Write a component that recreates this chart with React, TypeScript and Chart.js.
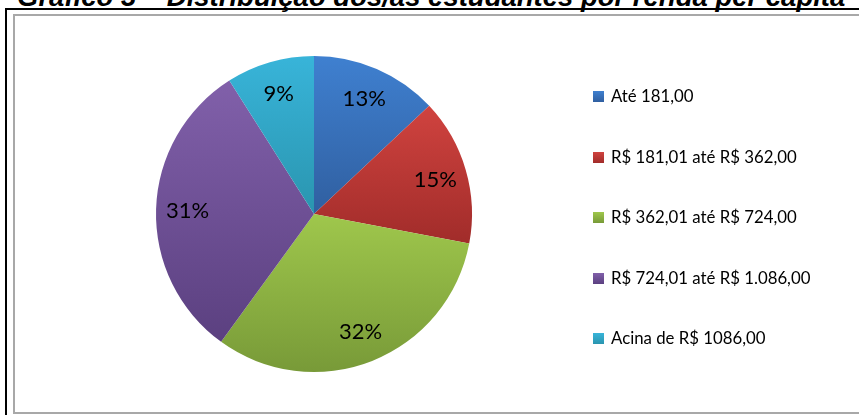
import React, { useEffect, useRef } from 'react';
import { Chart, ArcElement, PieController } from 'chart.js';

Chart.register(ArcElement, PieController);

const titleText = 'Gráfico 3 – Distribuição dos/as estudantes por renda per capita';
const categories = [
  'Até 181,00',
  'R$ 181,01 até R$ 362,00',
  'R$ 362,01 até R$ 724,00',
  'R$ 724,01 até R$ 1.086,00',
  'Acina de R$ 1086,00',
];
const values = [13, 15, 32, 31, 9];
const topColors = ['#3F80D0', '#D0433F', '#9FC74C', '#8160AA', '#38B4D9'];
const bottomColors = ['#305FA0', '#A12C2A', '#789A38', '#5B4080', '#2A95AF'];

const PIE_RADIUS = 158;

function sliceGradient(chart: any, i: number) {
  const area = chart.chartArea;
  if (!area) return topColors[i];
  const cy = (area.top + area.bottom) / 2;
  const r = PIE_RADIUS;
  const total = values.reduce((a, b) => a + b, 0);
  let cum = 0;
  for (let k = 0; k < i; k++) cum += values[k];
  const a0 = -Math.PI / 2 + (cum / total) * 2 * Math.PI;
  const a1 = a0 + (values[i] / total) * 2 * Math.PI;
  const ys = [cy, cy + r * Math.sin(a0), cy + r * Math.sin(a1)];
  for (const t of [-Math.PI / 2, Math.PI / 2, (3 * Math.PI) / 2]) {
    if (t >= a0 - 1e-9 && t <= a1 + 1e-9) ys.push(cy + r * Math.sin(t));
  }
  const y0 = Math.min(...ys);
  const y1 = Math.max(...ys);
  const g = chart.ctx.createLinearGradient(0, y0, 0, y1);
  g.addColorStop(0, topColors[i]);
  g.addColorStop(1, bottomColors[i]);
  return g;
}

const LABEL_FONT = 22;

const percentLabels = {
  id: 'percentLabels',
  afterDatasetsDraw(chart: any) {
    const ctx = chart.ctx;
    const meta = chart.getDatasetMeta(0);
    ctx.save();
    ctx.fillStyle = '#000';
    ctx.font = LABEL_FONT + 'px Lato';
    ctx.textAlign = 'center';
    ctx.textBaseline = 'alphabetic';
    meta.data.forEach((arc: any, i: number) => {
      const { x, y, startAngle, endAngle, outerRadius } = arc.getProps(
        ['x', 'y', 'startAngle', 'endAngle', 'outerRadius'],
        true
      );
      const mid = (startAngle + endAngle) / 2;
      const d = outerRadius * 0.8;
      const lx = x + Math.cos(mid) * d;
      const ly = y + Math.sin(mid) * d;
      ctx.fillText(values[i] + '%', lx, ly + LABEL_FONT * 0.36);
    });
    ctx.restore();
  },
};

export default function App() {
  const canvasRef = useRef<HTMLCanvasElement | null>(null);

  useEffect(() => {
    if (!canvasRef.current) return;
    const chart = new Chart(canvasRef.current, {
      type: 'pie',
      data: {
        labels: categories,
        datasets: [
          {
            data: values,
            backgroundColor: (c: any) => sliceGradient(c.chart, c.dataIndex),
            borderWidth: 0,
          },
        ],
      },
      options: {
        animation: false,
        responsive: false,
        radius: PIE_RADIUS,
        layout: { padding: 0 },
        plugins: {
          legend: { display: false },
          tooltip: { enabled: false },
        },
      } as any,
      plugins: [percentLabels],
    });
    return () => chart.destroy();
  }, []);

  const legendCenters = categories.map((_, i) => 96.5 + i * 60.5);

  return (
    <div
      style={{
        position: 'absolute',
        left: 0,
        top: 0,
        width: 859,
        height: 415,
        overflow: 'hidden',
        background: '#fff',
      }}
    >
      <div
        style={{
          position: 'absolute',
          left: 17,
          top: -17.5,
          font: 'italic bold 27.5px "Liberation Sans", Arial, sans-serif',
          lineHeight: '27.5px',
          whiteSpace: 'nowrap',
          color: '#000',
        }}
      >
        {titleText}
      </div>
      <div
        style={{
          position: 'absolute',
          left: 5,
          top: 8,
          width: 1000,
          height: 1000,
          border: '2px solid #000',
          boxSizing: 'border-box',
        }}
      />
      <div
        style={{
          position: 'absolute',
          left: 13,
          top: 14,
          width: 1000,
          height: 400,
          border: '2px solid #a8a8a8',
          boxSizing: 'border-box',
          background: '#fff',
        }}
      />
      <canvas
        ref={canvasRef}
        width={598}
        height={396}
        style={{ position: 'absolute', left: 15, top: 16, width: 598, height: 396 }}
      />
      {categories.map((label, i) => (
        <React.Fragment key={label}>
          <div
            style={{
              position: 'absolute',
              left: 593,
              top: legendCenters[i] - 5.5,
              width: 11,
              height: 11,
              background: `linear-gradient(${topColors[i]}, ${bottomColors[i]})`,
            }}
          />
          <div
            style={{
              position: 'absolute',
              left: 611,
              top: legendCenters[i] - 11.4,
              height: 22,
              lineHeight: '22px',
              font: '16.8px Lato, sans-serif',
              whiteSpace: 'nowrap',
              color: '#000',
            }}
          >
            {label}
          </div>
        </React.Fragment>
      ))}
    </div>
  );
}
